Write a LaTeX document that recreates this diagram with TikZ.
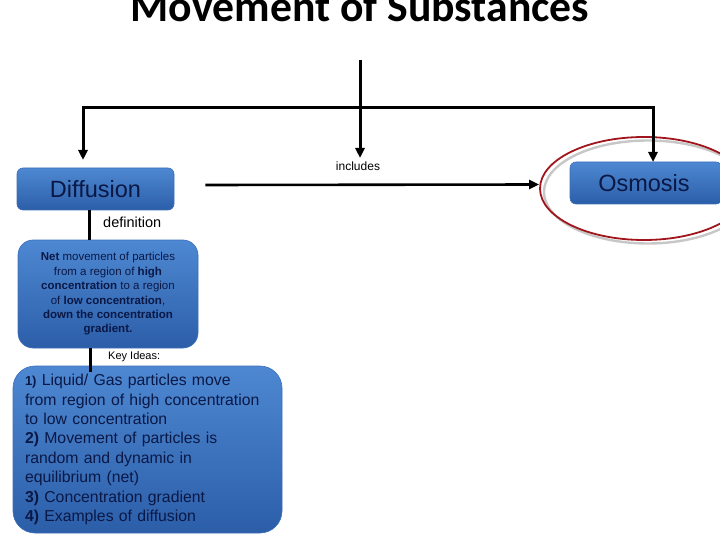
\documentclass[tikz,border=0pt]{standalone}
\usepackage{fontspec}
\setmainfont{Liberation Sans}
\newfontfamily\titlefont{Carlito}
\usepackage{xcolor}
\usetikzlibrary{arrows.meta,positioning,shapes.geometric}
\definecolor{box_top}{RGB}{78,136,210}
\definecolor{box_bot}{RGB}{44,94,168}
\definecolor{box_edge}{RGB}{60,110,185}
\definecolor{box_text}{RGB}{10,24,70}
\definecolor{ring_red}{RGB}{160,22,28}

\begin{document}
\begin{tikzpicture}[x=1pt, y=-1pt,
    topicbox/.style={rounded corners=6pt, draw=box_edge, line width=0.6pt,
      top color=box_top, bottom color=box_bot, text=box_text,
      font=\fontsize{23.5}{26}\selectfont, inner sep=0pt},
    infobox/.style={draw=box_edge, line width=0.6pt,
      top color=box_top, bottom color=box_bot, text=box_text, inner sep=0pt},
    link/.style={line width=3pt},
    arr/.style={link, -{Triangle[length=10pt,width=9pt]}},
    tag/.style={font=\fontsize{12}{14}\selectfont, anchor=west, inner sep=0pt}]
  \useasboundingbox (0,0) rectangle (720,540);
  \node[font=\titlefont\bfseries\fontsize{43.7}{48}\selectfont, anchor=base] (title) at (360,22)
    {Movement of Substances};

  % highlight ring round Osmosis
  \node[ellipse, draw=black!22, line width=2.4pt, minimum width=208pt, minimum height=103pt]
    (shadow) at (648,192) {};
  \node[ellipse, draw=ring_red, line width=1.8pt, minimum width=208pt, minimum height=103pt]
    (ring) at (644,188.5) {};

  % main topics
  \node[topicbox, minimum width=157pt, minimum height=42pt] (diff) at (95.5,189) {Diffusion};
  \node[topicbox, minimum width=152pt, minimum height=42pt] (osmo) at (646,183)
    {\hspace*{-4pt}Osmosis};

  \node[infobox, rounded corners=15pt, minimum width=180pt, minimum height=108pt,
    align=center, font=\fontsize{11.5}{14.4}\selectfont] (defn) at (108,294)
    {\textbf{Net} movement of particles\\ from a region of \textbf{high}\\
     \textbf{concentration} to a region\\ of \textbf{low concentration},\\
     \textbf{down the concentration}\\ \textbf{gradient.}};
  \node[infobox, rounded corners=22pt, text width=245pt, inner xsep=12pt,
    minimum height=167pt, align=left, font=\fontsize{15.8}{19.4}\selectfont]
    (keys) at (147.5,449.5)
    {{\fontsize{13}{19.4}\selectfont\textbf{1)}} Liquid/ Gas particles move\\
     from region of high concentration\\ to low concentration\\
     \textbf{2)} Movement of particles is\\ random and dynamic in\\
     equilibrium (net)\\ \textbf{3)} Concentration gradient\\
     \textbf{4)} Examples of diffusion};

  % tree from the title
  \coordinate (top) at (360,60);
  \coordinate (hub) at (360,108);
  \coordinate (lend) at (83,160);
  \coordinate (mend) at (360,158);
  \coordinate (rend) at (653,162);
  \draw[link] (top) -- (hub);
  \draw[arr] (hub) -| (lend);
  \draw[arr] (hub) -| (rend);
  \draw[arr] (hub) -- (mend);
  \node[tag, anchor=center] (incl) at (358,166) {includes};

  \draw[arr, line width=2.6pt] ([xshift=31pt,yshift=4pt]diff.east) -- ([yshift=4pt]ring.west);

  % definition and key ideas
  \draw[link] ([xshift=-6.5pt]diff.south) -- ([xshift=-6.5pt]diff.south |- defn.north);
  \node[tag, font=\fontsize{14.5}{16}\selectfont] (deflbl) at (103,222) {definition};
  \draw[link] ([xshift=-18pt]defn.south) -- ([xshift=-18pt]defn.south |- 0,372);
  \node[tag, font=\fontsize{11}{13}\selectfont] (keylbl) at (108,357) {Key Ideas:};
\end{tikzpicture}
\end{document}
